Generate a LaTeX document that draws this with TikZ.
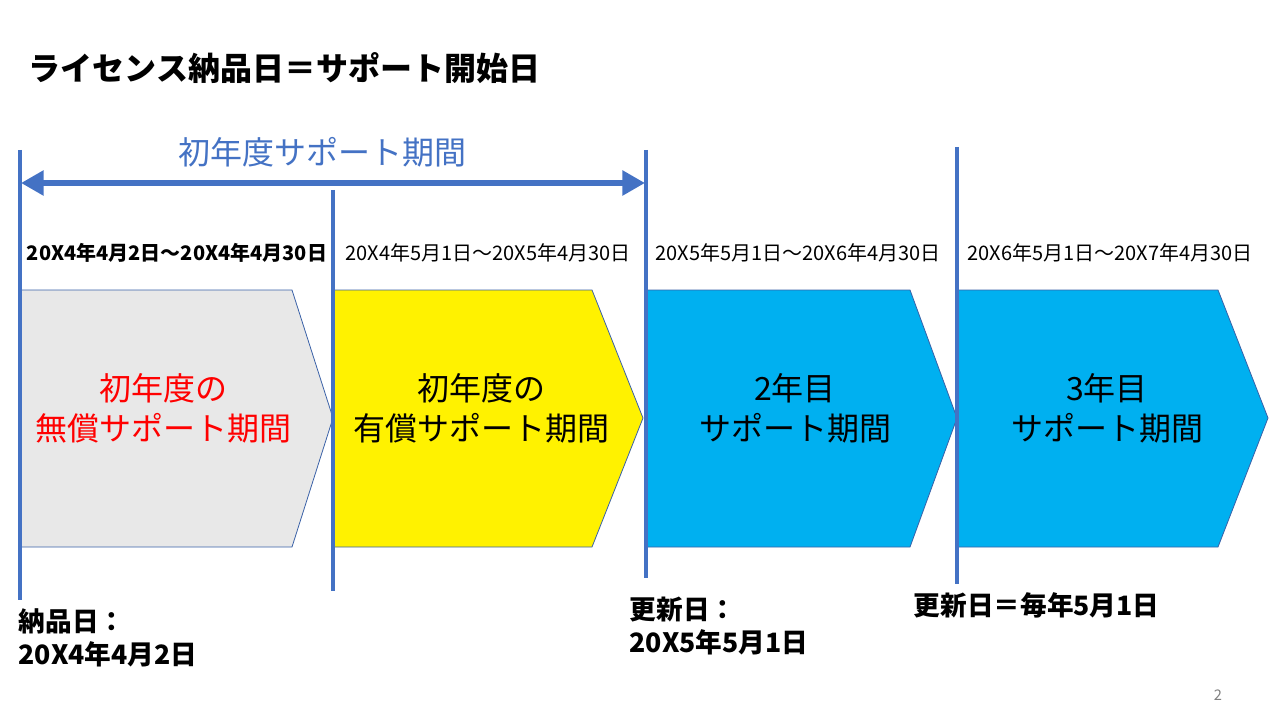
\documentclass[tikz,border=0pt]{standalone}
\usepackage{fontspec}
\setmainfont{Noto Sans CJK JP}
\usetikzlibrary{arrows.meta,positioning}
\definecolor{lineblue}{HTML}{4472C4}
\definecolor{skyblue}{HTML}{00B0F0}
\definecolor{palegray}{HTML}{E8E8E8}

\begin{document}
\begin{tikzpicture}[
  x=0.75pt,y=-0.75pt,
  chev/.style={draw=lineblue!85!black, line width=0.6pt},
  vline/.style={draw=lineblue, line width=2.8pt},
  span/.style={{Triangle[length=17pt,width=18pt]}-{Triangle[length=17pt,width=18pt]}, draw=lineblue, fill=lineblue, line width=4.5pt},
  body/.style={align=center, font=\fontsize{24}{30}\selectfont},
  date/.style={font=\fontsize{15}{17}\selectfont},
  foot/.style={anchor=west, align=left, font=\fontsize{20}{25}\selectfont\bfseries}
]
\useasboundingbox (0,0) rectangle (1280,720);
% title
\node[anchor=west, font=\fontsize{24}{28}\selectfont\bfseries] (title) at (24,68) {ライセンス納品日＝サポート開始日};
% chevrons
\foreach \l/\r/\d/\col in {20/333/41/palegray, 333/643/51/yellow, 646/957/47/skyblue, 957/1268/50/skyblue}
  \draw[chev, fill=\col] (\l,290) -- (\r-\d,290) -- (\r,418) -- (\r-\d,547) -- (\l,547) -- cycle;
% timeline markers
\coordinate (a1) at (20,150);  \coordinate (a2) at (20,600);
\coordinate (b1) at (333,190); \coordinate (b2) at (333,591);
\coordinate (c1) at (646,150); \coordinate (c2) at (646,578);
\coordinate (d1) at (957,147); \coordinate (d2) at (957,584);
\foreach \p in {a,b,c,d}{\draw[vline] (\p1) -- (\p2);}
% first-year span
\coordinate (s1) at (21,183);
\coordinate (s2) at (645,183);
\draw[span] (s1) -- (s2);
\node[text=lineblue, font=\fontsize{24}{28}\selectfont] (spanlbl) at (322,152) {初年度サポート期間};
% dates
\node[date, font=\fontsize{15}{17}\selectfont\bfseries] (d1lbl) at (177,253) {20X4年4月2日～20X4年4月30日};
\node[date] (d2lbl) at (488,253) {20X4年5月1日～20X5年4月30日};
\node[date] (d3lbl) at (798,253) {20X5年5月1日～20X6年4月30日};
\node[date] (d4lbl) at (1110,253) {20X6年5月1日～20X7年4月30日};
% period labels
\node[body, text=red] (free) at (163,408) {初年度の\\無償サポート期間};
\node[body] (paid) at (481,408) {初年度の\\有償サポート期間};
\node[body] (second) at (795,408) {2年目\\サポート期間};
\node[body] (third) at (1107,408) {3年目\\サポート期間};
% footnotes
\node[foot] (deliv) at (14,638) {納品日：\\20X4年4月2日};
\node[foot] (renew) at (625,626) {更新日：\\20X5年5月1日};
\node[foot] (every) at (909,605) {更新日＝毎年5月1日};
\node[text=gray, font=\fontsize{11}{13}\selectfont] (page) at (1218,695) {2};
\end{tikzpicture}
\end{document}
